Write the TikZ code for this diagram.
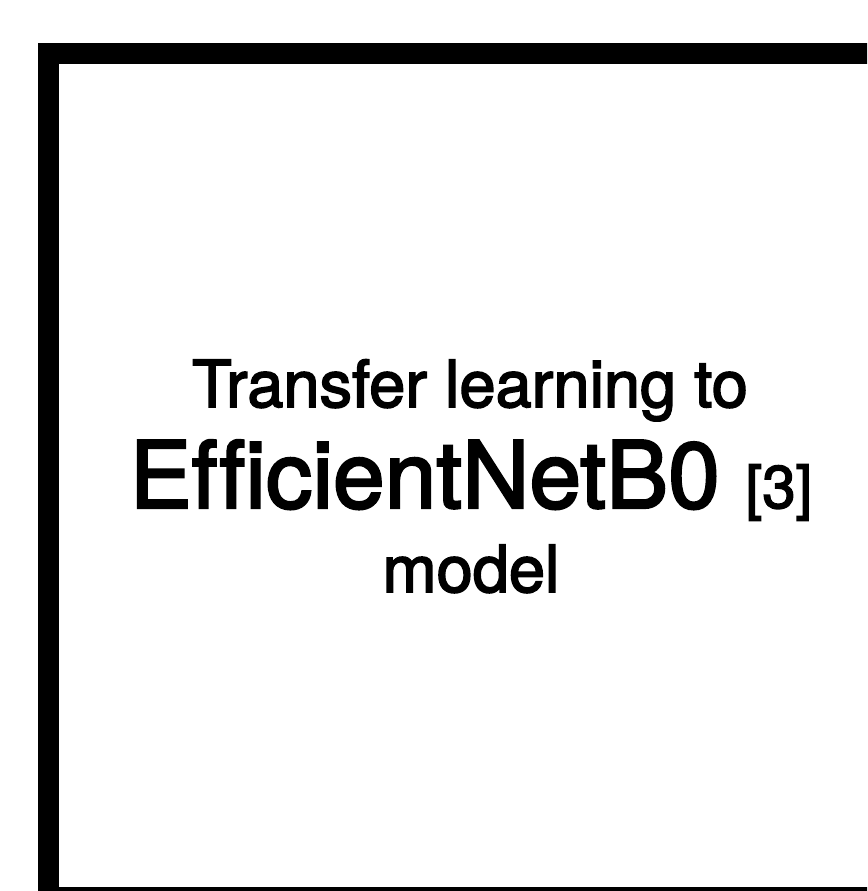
\documentclass[tikz,border=0pt]{standalone}
\usepackage{fontspec}
\setmainfont{TeX Gyre Heros}[Ligatures=NoCommon, FakeBold=2.5]
\usepackage{tikz}
\usetikzlibrary{positioning}

\begin{document}
\begin{tikzpicture}[x=1pt, y=-1pt, line/.style={inner sep=0pt, anchor=base}, frame/.style={draw=black, line width=21pt}]
\useasboundingbox[fill=white] (0,0) rectangle (867,891);
\clip (0,0) rectangle (867,891);
\draw[frame] (48.5,53.5) rectangle (891.5,897.5);
\node[line, font=\fontsize{65}{78}\selectfont] (title) at (470,407) {Transfer learning to};
\node[line, font=\fontsize{93}{110}\selectfont] (model) at (471,508) {EfficientNetB0 {\fontsize{60}{72}\selectfont[3]}};
\node[line, font=\fontsize{65}{78}\selectfont] (tail) at (471,592) {model};
\end{tikzpicture}
\end{document}
